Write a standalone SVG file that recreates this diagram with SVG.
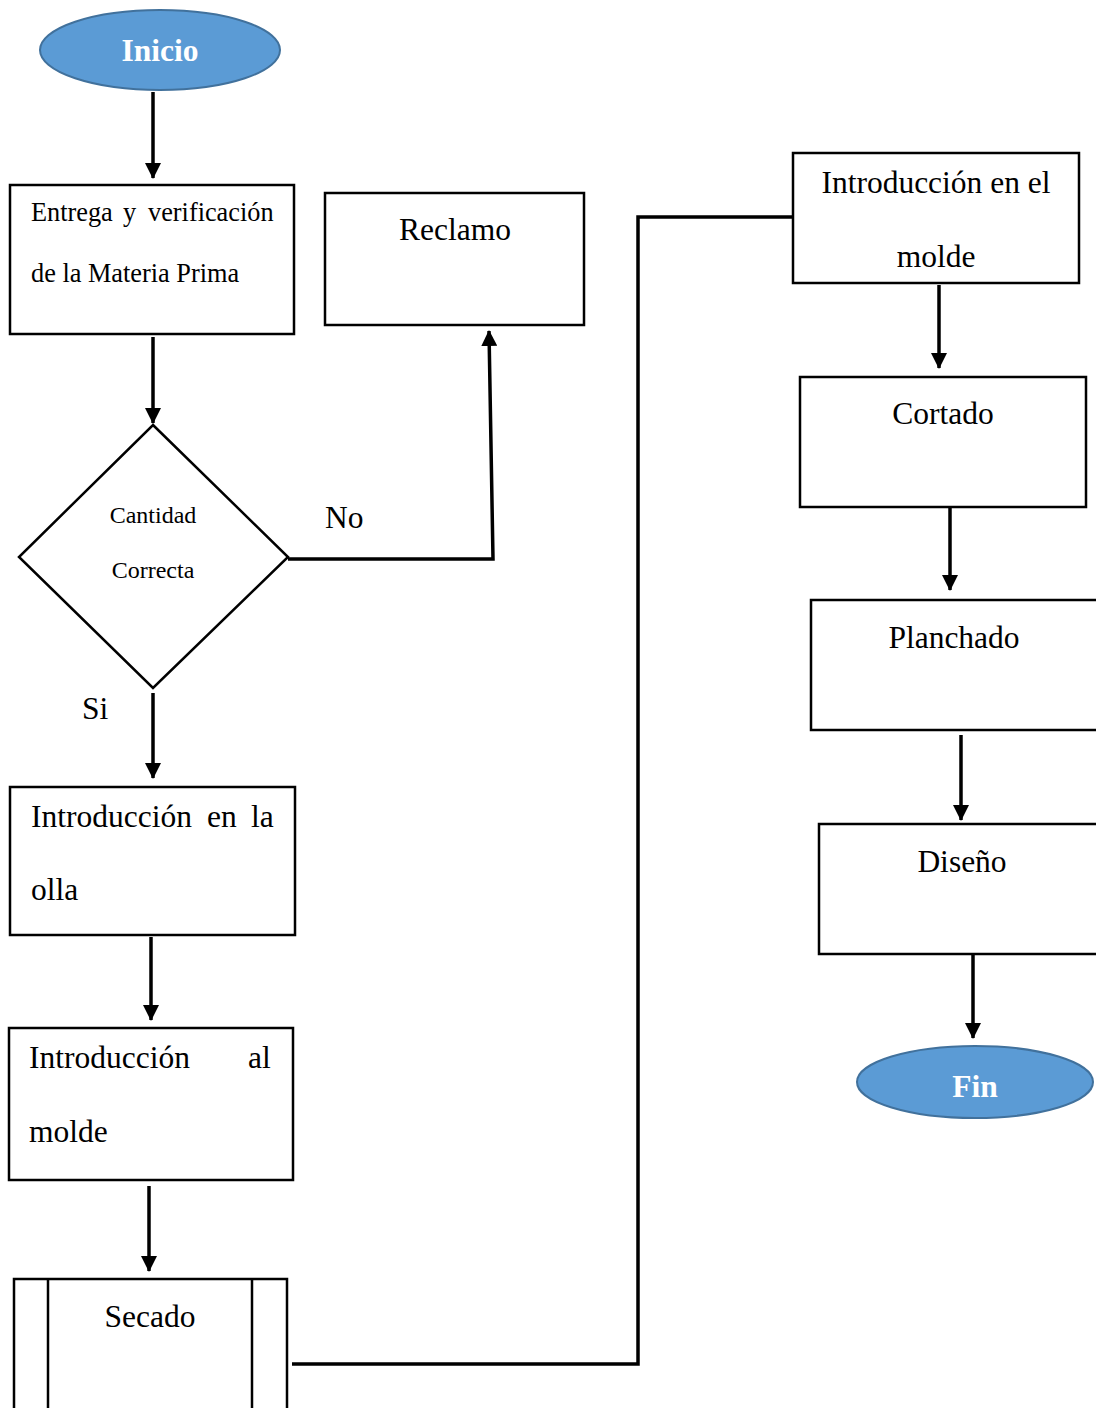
<svg xmlns="http://www.w3.org/2000/svg" width="1096" height="1408" viewBox="0 0 1096 1408">
<defs>
<marker id="ah" markerWidth="16" markerHeight="16" viewBox="0 0 16 16" refX="15" refY="8" orient="auto" markerUnits="userSpaceOnUse">
<path d="M0,0 L16,8 L0,16 Z" fill="#000"/>
</marker>
<style>
.box{fill:#fff;stroke:#000;stroke-width:2.5}
.term{fill:#5B9BD5;stroke:#41719C;stroke-width:2}
.t{font-family:"Liberation Serif","Times New Roman",serif;font-size:31.5px;fill:#000}
.tc{text-anchor:middle}
.ts{font-size:26.3px}
.td{font-size:24px}
.tw{font-family:"Liberation Serif","Times New Roman",serif;font-size:31.5px;font-weight:bold;fill:#fff;text-anchor:middle}
.c{fill:none;stroke:#000;stroke-width:3.5}
.a{marker-end:url(#ah)}
</style>
</defs>
<g id="connectors">
<line class="c a" x1="153" y1="92" x2="153" y2="178"/>
<line class="c a" x1="153" y1="337" x2="153" y2="423"/>
<polyline class="c a" points="288,559 493,559 489,331"/>
<line class="c a" x1="153" y1="693" x2="153" y2="778"/>
<line class="c a" x1="151" y1="937" x2="151" y2="1020"/>
<line class="c a" x1="149" y1="1186" x2="149" y2="1271"/>
<polyline class="c" points="292,1364 638,1364 638,217 793,217"/>
<line class="c a" x1="939" y1="285" x2="939" y2="368"/>
<line class="c a" x1="950" y1="507" x2="950" y2="590"/>
<line class="c a" x1="961" y1="735" x2="961" y2="820"/>
<line class="c a" x1="973" y1="954" x2="973" y2="1038"/>
<text class="t" x="325" y="528">No</text>
<text class="t" x="82" y="719">Si</text>
</g>
<g id="inicio">
<ellipse class="term" cx="160" cy="50" rx="120" ry="40"/>
<text class="tw" x="160" y="61">Inicio</text>
</g>
<g id="entrega">
<rect class="box" x="10" y="185" width="284" height="149"/>
<text class="t ts" y="221"><tspan x="31">Entrega</tspan><tspan x="123">y</tspan><tspan x="148">verificación</tspan></text>
<text class="t ts" x="31" y="282">de la Materia Prima</text>
</g>
<g id="reclamo">
<rect class="box" x="325" y="193" width="259" height="132"/>
<text class="t tc" x="455" y="240">Reclamo</text>
</g>
<g id="cantidad">
<polygon class="box" points="153,425 288,557 153,688 19,557"/>
<text class="t td tc" x="153" y="523">Cantidad</text>
<text class="t td tc" x="153" y="578">Correcta</text>
</g>
<g id="olla">
<rect class="box" x="10" y="787" width="285" height="148"/>
<text class="t" y="827"><tspan x="31">Introducción</tspan><tspan x="207">en</tspan><tspan x="251">la</tspan></text>
<text class="t" x="31" y="900">olla</text>
</g>
<g id="almolde">
<rect class="box" x="9" y="1028" width="284" height="152"/>
<text class="t" y="1068"><tspan x="29">Introducción</tspan><tspan x="248">al</tspan></text>
<text class="t" x="29" y="1142">molde</text>
</g>
<g id="secado">
<rect class="box" x="14" y="1279" width="273" height="160"/>
<line class="c" style="stroke-width:2.5" x1="48" y1="1279" x2="48" y2="1410"/>
<line class="c" style="stroke-width:2.5" x1="252" y1="1279" x2="252" y2="1410"/>
<text class="t tc" x="150" y="1327">Secado</text>
</g>
<g id="enelmolde">
<rect class="box" x="793" y="153" width="286" height="130"/>
<text class="t tc" x="936" y="193">Introducción en el</text>
<text class="t tc" x="936" y="267">molde</text>
</g>
<g id="cortado">
<rect class="box" x="800" y="377" width="286" height="130"/>
<text class="t tc" x="943" y="424">Cortado</text>
</g>
<g id="planchado">
<rect class="box" x="811" y="600" width="300" height="130"/>
<text class="t tc" x="954" y="648">Planchado</text>
</g>
<g id="diseno">
<rect class="box" x="819" y="824" width="300" height="130"/>
<text class="t tc" x="962" y="872">Diseño</text>
</g>
<g id="fin">
<ellipse class="term" cx="975" cy="1082" rx="118" ry="36"/>
<text class="tw" x="975" y="1097">Fin</text>
</g>
</svg>
